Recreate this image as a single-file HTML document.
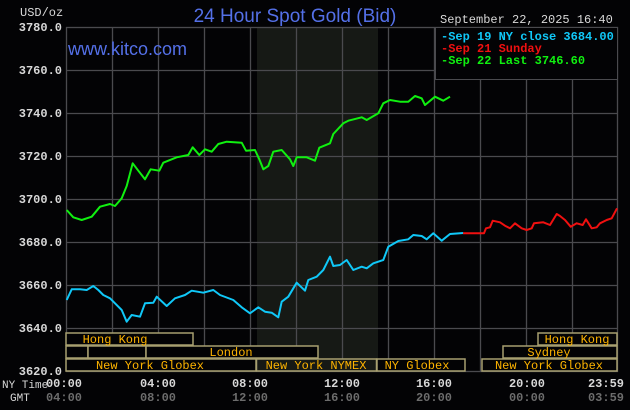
<!DOCTYPE html>
<html><head><meta charset="utf-8"><style>
html,body{margin:0;padding:0;background:#030305;}
svg{display:block}
</style></head><body>
<svg width="630" height="410" xmlns="http://www.w3.org/2000/svg">
<rect width="630" height="410" fill="#030305"/>
<rect x="257" y="27" width="121" height="345" fill="#161915"/>
<g stroke="#4a4a4e" stroke-width="1.3">
<line x1="112.5" y1="27" x2="112.5" y2="372"/><line x1="158.5" y1="27" x2="158.5" y2="372"/>
<line x1="204.5" y1="27" x2="204.5" y2="372"/><line x1="250.5" y1="27" x2="250.5" y2="372"/>
<line x1="296.5" y1="27" x2="296.5" y2="372"/><line x1="342.5" y1="27" x2="342.5" y2="372"/>
<line x1="388.5" y1="27" x2="388.5" y2="372"/><line x1="434.5" y1="27" x2="434.5" y2="372"/>
<line x1="480.5" y1="27" x2="480.5" y2="372"/><line x1="526.5" y1="27" x2="526.5" y2="372"/>
<line x1="572.5" y1="27" x2="572.5" y2="372"/>
<line x1="66" y1="70.5" x2="618" y2="70.5"/><line x1="66" y1="113.5" x2="618" y2="113.5"/>
<line x1="66" y1="156.5" x2="618" y2="156.5"/><line x1="66" y1="199.5" x2="618" y2="199.5"/>
<line x1="66" y1="242.5" x2="618" y2="242.5"/><line x1="66" y1="285.5" x2="618" y2="285.5"/>
<line x1="66" y1="328.5" x2="618" y2="328.5"/>
</g>
<rect x="66.5" y="27.5" width="551" height="344" fill="none" stroke="#4a4a4e" stroke-width="1.3"/>
<g font-family="Liberation Mono, monospace" font-size="12" font-weight="bold" fill="#d8d8d8" text-anchor="end">
<text x="62" y="31">3780.0</text><text x="62" y="74">3760.0</text><text x="62" y="117">3740.0</text>
<text x="62" y="160">3720.0</text><text x="62" y="203">3700.0</text><text x="62" y="246">3680.0</text>
<text x="62" y="289">3660.0</text><text x="62" y="332">3640.0</text><text x="62" y="375">3620.0</text>
</g>
<text x="20" y="16" font-family="Liberation Mono, monospace" font-size="12" fill="#d8d8d8">USD/oz</text>
<text x="295" y="22" font-family="Liberation Sans, sans-serif" font-size="19" fill="#5470e8" text-anchor="middle">24 Hour Spot Gold (Bid)</text>
<text x="68" y="55" font-family="Liberation Sans, sans-serif" font-size="18" fill="#5470e8">www.kitco.com</text>
<text x="440" y="23" font-family="Liberation Mono, monospace" font-size="12" fill="#d8d8d8">September 22, 2025 16:40</text>
<rect x="435.5" y="27.5" width="182" height="52" fill="#030305" stroke="#4a4a4e"/>
<g font-family="Liberation Mono, monospace" font-size="12" font-weight="bold">
<text x="441" y="40" fill="#10c8f8">-Sep 19 NY close 3684.00</text>
<text x="441" y="52" fill="#f01010">-Sep 21 Sunday</text>
<text x="441" y="64" fill="#10f010">-Sep 22 Last 3746.60</text>
</g>
<g fill="none" stroke-width="2" stroke-linejoin="round">
<polyline stroke="#10f010" points="66.7,210 73.3,217.3 81.7,220 91.7,216.7 100,206.7 110,204 115,206 121.7,198.3 126.7,186 132.7,163.3 138.3,170.7 145,179.3 150.7,169.3 159.3,170.7 163.3,162.7 176.7,157.3 188.3,155 192.7,147.3 199.3,155 205,149.3 211.7,151.7 218.3,144 226.7,141.7 241.7,142.7 246,150.7 255,150 259.3,159.3 263.3,169.3 268.3,166 273.3,151.7 281.7,150 290,159.3 293.3,166 296.7,157.3 306.7,157.3 315,160.7 319.3,147.7 330,143.3 333.3,134 343.3,123.3 348.3,120.7 361.7,117.3 366.7,120 378.3,113.3 383.3,103.3 390,100 400,101.7 408.3,101.7 415,96 421.7,98.3 425,105 435,96.7 443.3,100.7 450,96.7"/>
<polyline stroke="#10c8f8" points="66.7,300 71.7,289.3 80,289.3 86.7,290 93.3,286 98.3,290 103.3,295 110,298.3 115,303.3 121.7,310 126.7,321.7 131.7,315 140,316.7 145,303.3 153.3,302.7 156.7,296.7 166.7,306 175,298.3 185,295 191.7,290.7 203.3,292.7 213.3,290 220,295 233.3,300 241.7,307.3 250,313.3 258.3,307.3 265,311.7 271.7,312.7 278.3,317.3 281.7,301.7 288.3,296.7 296.7,282.7 305,290.7 308.3,280 316.7,276.7 323.3,270 330,256.7 333.3,266 340,265 346.7,260 353.3,270 361.7,266.7 366.7,268.3 373.3,263.3 383.3,260 388.3,246.7 398.3,241 408.3,239.3 413.3,235 421.7,236 426.7,239.3 433.3,233.3 441.7,240.7 450,234 463.3,233"/>
<polyline stroke="#f01010" points="463,233.3 484,233.3 486,228.3 490,227.3 492.7,220.7 500,222.3 505,225.7 510,228.3 515,223.3 521.7,228.3 526.7,230 531.7,228.3 534,223.3 543.3,222.3 550,225 556.7,214 560,216 565,220 570.7,226.7 576.7,223.3 582.7,225 586,219.3 591.7,228.3 596.7,227.3 600,223.3 606.7,220 611.7,218.3 617,208.3"/>
</g>
<g fill="#030305" stroke="#a8a070" stroke-width="1.5">
<rect x="66" y="333" width="127" height="12"/>
<rect x="66" y="346" width="22" height="12"/><rect x="88" y="346" width="58" height="12"/><rect x="146" y="346" width="172" height="12"/>
<rect x="66" y="359" width="190" height="12"/><rect x="256.5" y="359" width="120" height="12" fill="#161915"/><rect x="377" y="359" width="88" height="12"/>
<rect x="482" y="359" width="135" height="12"/>
<rect x="503" y="346" width="114" height="12"/><rect x="538" y="333" width="79" height="12"/>
</g>
<g font-family="Liberation Mono, monospace" font-size="12" fill="#ffb400" text-anchor="middle">
<text x="115" y="343">Hong Kong</text><text x="231" y="356">London</text>
<text x="150" y="369">New York Globex</text><text x="316" y="369">New York NYMEX</text><text x="417" y="369">NY Globex</text>
<text x="549" y="369">New York Globex</text><text x="549" y="356">Sydney</text><text x="577" y="343">Hong Kong</text>
</g>
<g font-family="Liberation Mono, monospace" font-size="12" text-anchor="middle">
<text x="2" y="388" fill="#d8d8d8" text-anchor="start" font-size="11">NY Time</text><text x="10" y="401" fill="#d8d8d8" text-anchor="start" font-size="11">GMT</text>
<g fill="#d8d8d8" font-weight="bold"><text x="64" y="387">00:00</text><text x="158" y="387">04:00</text><text x="250" y="387">08:00</text><text x="342" y="387">12:00</text><text x="434" y="387">16:00</text><text x="527" y="387">20:00</text><text x="606" y="387">23:59</text></g>
<g fill="#6c6c6c" font-weight="bold"><text x="64" y="401">04:00</text><text x="158" y="401">08:00</text><text x="250" y="401">12:00</text><text x="342" y="401">16:00</text><text x="434" y="401">20:00</text><text x="527" y="401">00:00</text><text x="606" y="401">03:59</text></g>
</g>
</svg>
</body></html>
